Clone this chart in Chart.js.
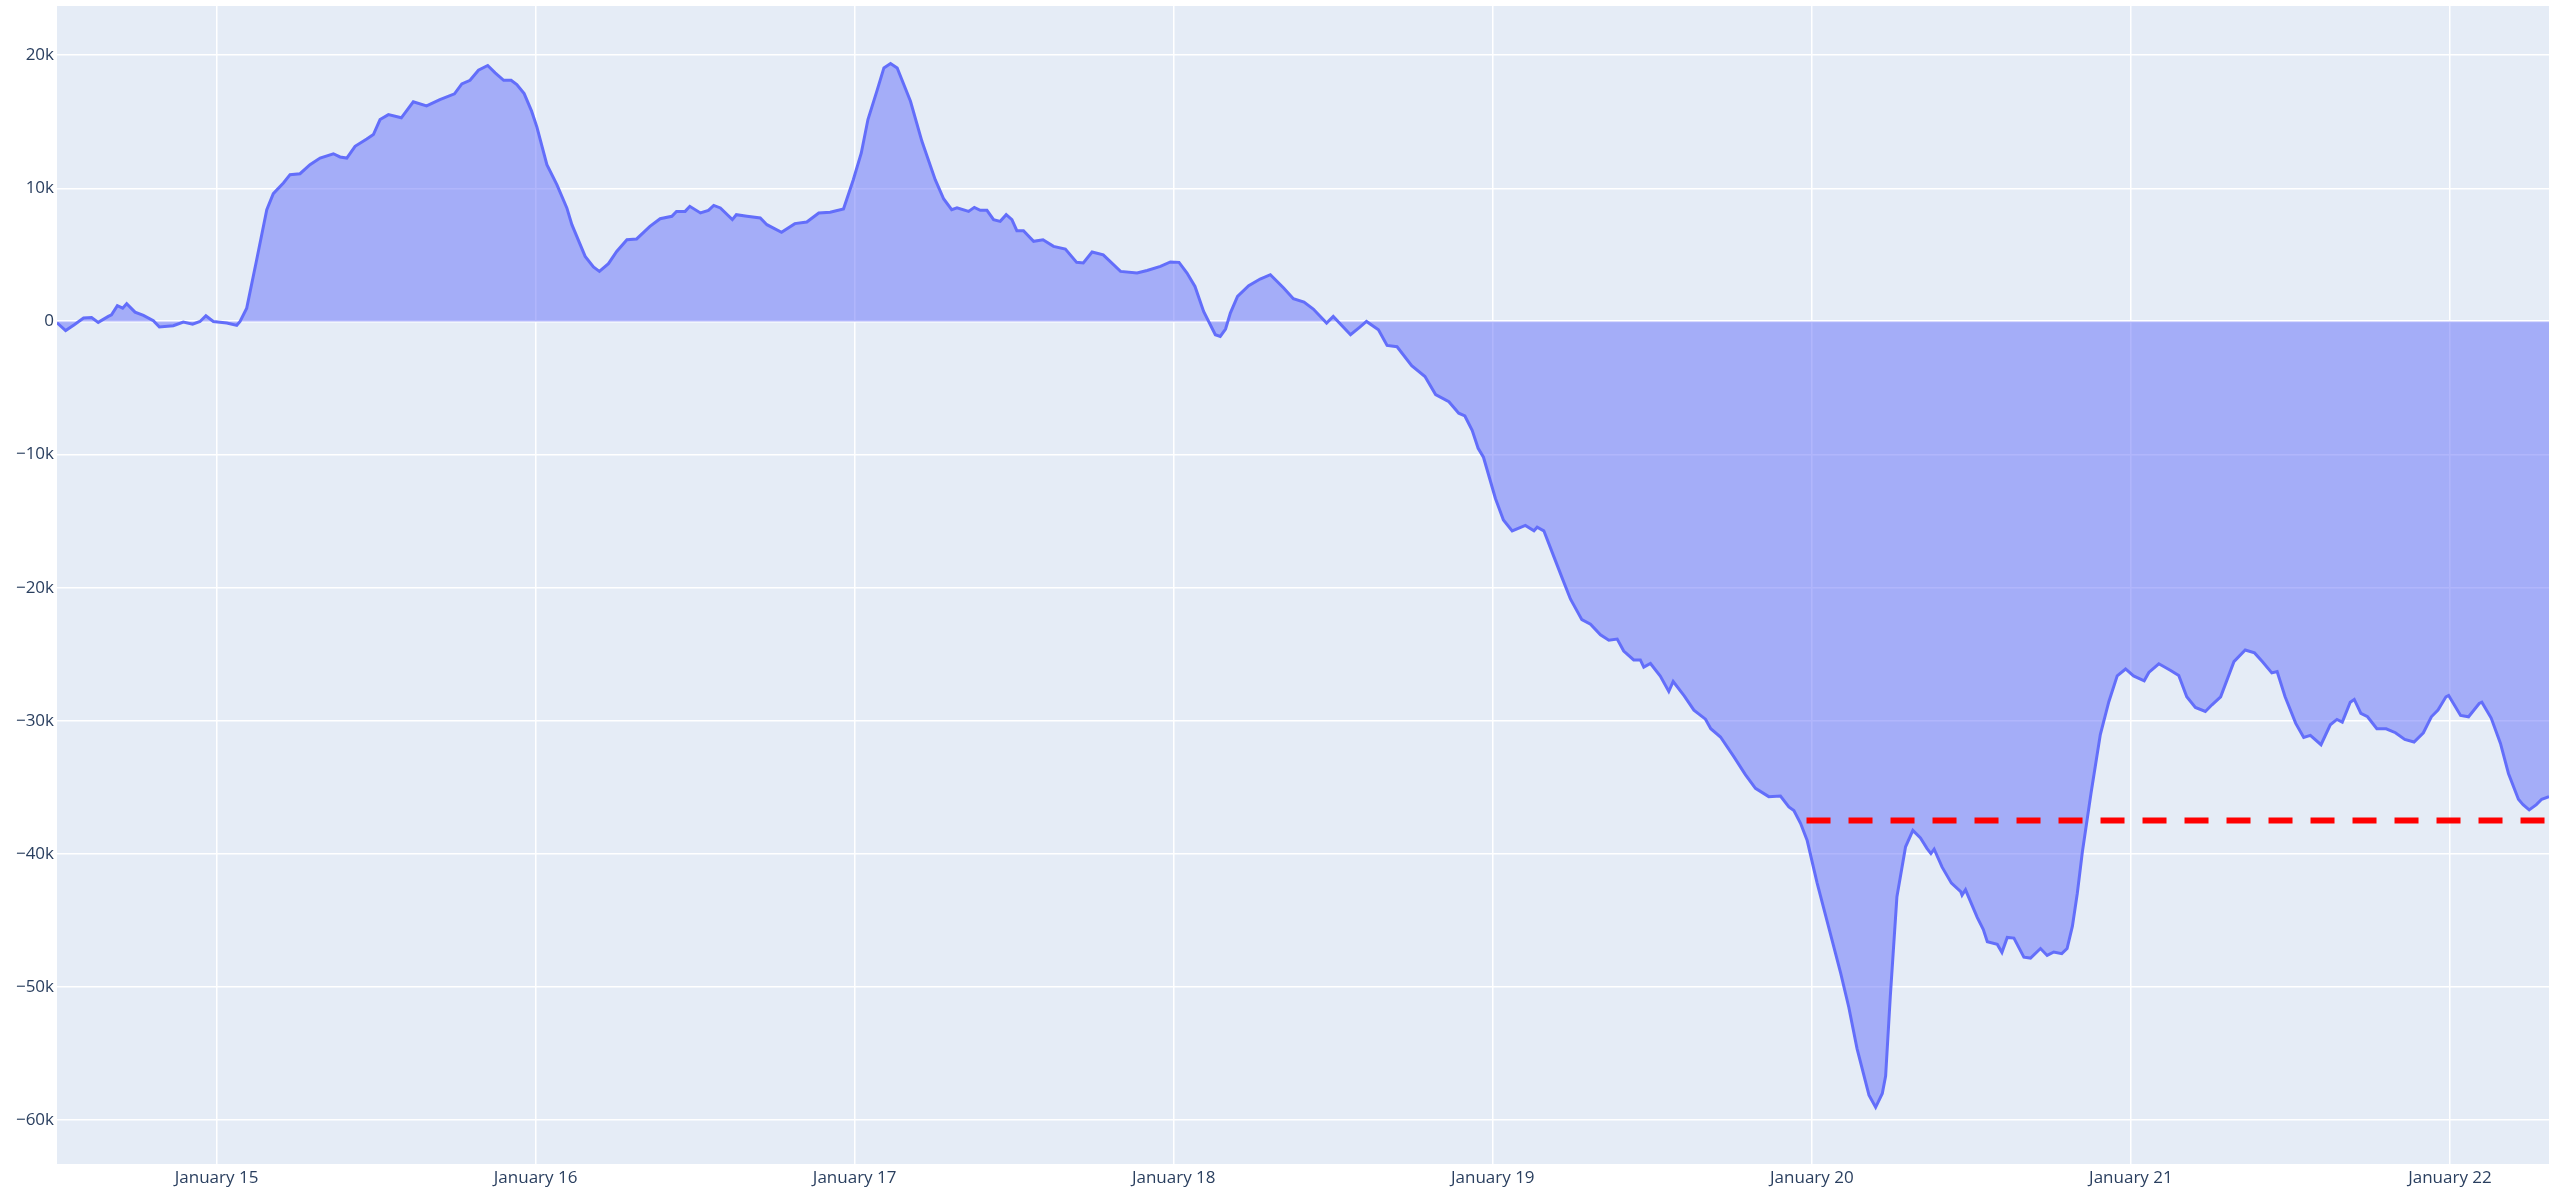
<!DOCTYPE html>
<html>
<head>
<meta charset="utf-8">
<script src="https://cdn.jsdelivr.net/npm/chart.js@4.4.1/dist/chart.umd.min.js"></script>
<style>
  html, body { margin: 0; padding: 0; background: #fff; }
  canvas { display: block; }
</style>
</head>
<body>
<canvas id="chart" width="2549" height="1188"></canvas>
<script>
// hours since January 15 00:00
const hours = [
  -12, -11.35, -10.7, -10, -9.4, -8.9, -8.14, -7.9, -7.46, -7.06, -6.76, -6.13, -5.5, -4.75, -4.3, -3.25,
  -2.5, -1.8, -1.24, -0.8, -0.24, 0.77, 1.52, 1.77, 2.27, 3.02, 3.78, 4.27, 5.03, 5.53, 6.28, 7.03,
  7.79, 8.79, 9.29, 9.8, 10.42, 11.3, 11.8, 12.3, 12.93, 13.9, 14.8, 15.8, 16.8, 17.9, 18.45, 19.07,
  19.7, 20.4, 20.96, 21.6, 22.16, 22.59, 23.14, 23.7, 24.1, 24.85, 25.6, 26.35, 26.73, 27.73, 28.35, 28.8,
  29.48, 30.1, 30.87, 31.6, 32.6, 33.37, 34.25, 34.6, 35.25, 35.6, 36.4, 37, 37.4, 37.9, 38.8, 39.1,
  39.9, 40.9, 41.4, 42.5, 43.5, 44.4, 45.3, 46.16, 47.16, 47.9, 48.5, 49, 49.7, 50.2, 50.7, 51.2,
  52.2, 53.06, 54.06, 54.7, 55.3, 55.7, 56.57, 57, 57.45, 57.95, 58.45, 58.95, 59.4, 59.83, 60.2, 60.7,
  61.46, 62.17, 62.96, 63.85, 64.7, 65.2, 65.86, 66.7, 68, 69.24, 70, 71, 71.75, 72.4, 73, 73.6,
  74.25, 75.13, 75.5, 75.9, 76.26, 76.8, 77.64, 78.5, 79.27, 80.27, 81, 81.8, 82.5, 83.5, 84, 85.3,
  86, 86.5, 87.4, 88.05, 88.8, 89.9, 90.9, 91.7, 92.7, 93.44, 93.9, 94.45, 94.9, 95.3, 96.2, 96.8,
  97.46, 98.45, 99.1, 99.34, 99.84, 100.47, 101.2, 101.84, 102.7, 103.35, 104.1, 104.73, 105.36, 105.85, 106.6, 107.1,
  107.36, 107.86, 108.6, 109.24, 109.57, 110.4, 111.13, 112, 112.4, 113.13, 114.13, 115, 115.76, 116.76, 117.64, 118.27,
  118.65, 119.15, 119.65, 120.4, 121.28, 122.16, 122.78, 123.4, 124.3, 124.8, 125.3, 125.55, 125.9, 126.4, 127.05, 127.6,
  128.17, 128.67, 128.96, 129.2, 129.8, 130.5, 131.2, 131.3, 131.56, 132.44, 132.9, 133.2, 133.95, 134.3, 134.7, 135.2,
  135.95, 136.45, 137.2, 137.7, 138.2, 138.8, 139.2, 139.6, 139.97, 140.35, 141, 141.7, 142.34, 142.97, 143.6, 144.2,
  145, 145.35, 146.1, 146.96, 147.6, 148.2, 148.85, 149.6, 150.1, 150.75, 151.75, 152.6, 153.3, 153.9, 154.6, 155,
  155.6, 156.4, 157, 157.5, 158.3, 159, 159.5, 159.9, 160.5, 160.8, 161.3, 161.8, 162.5, 163.2, 163.9, 164.6,
  165.3, 166, 166.6, 167.1, 167.7, 167.9, 168.8, 169.4, 170.2, 170.4, 171.1, 171.8, 172.4, 173.15, 173.5, 173.96,
  174.5, 174.9, 175.45
];

const values = [
  -100, -680, -250, 260, 300, -70, 380, 500, 1180, 1000, 1330, 700, 450, 50, -420, -320,
  -50, -200, 0, 430, 0, -120, -300, 0, 1000, 4640, 8400, 9600, 10400, 11030, 11100, 11780,
  12280, 12600, 12360, 12280, 13160, 13700, 14040, 15170, 15540, 15300, 16500, 16200, 16670, 17100, 17850, 18120,
  18870, 19230, 18680, 18120, 18120, 17800, 17120, 15800, 14600, 11780, 10280, 8530, 7270, 4890, 4090, 3760,
  4340, 5260, 6140, 6200, 7140, 7720, 7900, 8270, 8270, 8650, 8150, 8350, 8720, 8530, 7650, 8020,
  7900, 7770, 7270, 6700, 7350, 7470, 8150, 8200, 8450, 10650, 12660, 15170, 17400, 19050, 19380, 19050,
  16540, 13530, 10650, 9200, 8400, 8530, 8270, 8570, 8350, 8350, 7650, 7520, 8020, 7650, 6820, 6820,
  6020, 6140, 5640, 5440, 4440, 4390, 5220, 5000, 3760, 3640, 3830, 4140, 4470, 4440, 3640, 2630,
  750, -1000, -1130, -570, 630, 1880, 2680, 3190, 3510, 2510, 1710, 1460, 930, -120, 380, -1000,
  -420, 0, -620, -1800, -1900, -3330, -4140, -5490, -6030, -6890, -7100, -8180, -9530, -10200, -13300, -14920,
  -15730, -15320, -15730, -15460, -15730, -17350, -19230, -20850, -22400, -22740, -23540, -23950, -23860, -24760, -25430, -25430,
  -25970, -25700, -26640, -27800, -27050, -28130, -29200, -29880, -30600, -31220, -32700, -34050, -35080, -35700, -35650, -36480,
  -36740, -37700, -39000, -42190, -45560, -48930, -51520, -54630, -58130, -59040, -58000, -56700, -50740, -43220, -39470, -38240,
  -38810, -39600, -39980, -39650, -41000, -42200, -42840, -43100, -42700, -44770, -45680, -46600, -46800, -47400, -46280, -46330,
  -47760, -47830, -47110, -47630, -47370, -47500, -47110, -45430, -42960, -39850, -35440, -31040, -28570, -26630, -26110, -26630,
  -27000, -26370, -25720, -26200, -26600, -28200, -29000, -29300, -28800, -28200, -25560, -24680, -24900, -25560, -26400, -26300,
  -28200, -30200, -31250, -31100, -31800, -30300, -29900, -30100, -28600, -28400, -29450, -29700, -30600, -30600, -30900, -31400,
  -31600, -30900, -29700, -29200, -28200, -28100, -29600, -29700, -28700, -28600, -29800, -31700, -33960, -35900, -36300, -36700,
  -36300, -35900, -35700
];

// red dashed threshold line
const thresholdValue = -37500;
const thresholdHours = [119.6, 175.45];

const xTickHours = [0, 24, 48, 72, 96, 120, 144, 168];
const xTickLabels = ["January 15", "January 16", "January 17", "January 18", "January 19", "January 20", "January 21", "January 22"];
const yTickValues = [-60000, -50000, -40000, -30000, -20000, -10000, 0, 10000, 20000];

const tickFont = { family: "'Open Sans', verdana, arial, sans-serif", size: 17 };

// plot area background
const plotBg = {
  id: "plotBg",
  beforeDraw(chart) {
    const { ctx, chartArea: a } = chart;
    ctx.save();
    ctx.fillStyle = "#fff";
    ctx.fillRect(0, 0, chart.width, chart.height);
    ctx.fillStyle = "#e5ecf6";
    ctx.fillRect(a.left, a.top, a.right - a.left, a.bottom - a.top);
    ctx.restore();
  }
};

function yLabel(v) {
  if (v === 0) return "0";
  return (v < 0 ? "\u2212" : "") + Math.abs(v) / 1000 + "k";
}

new Chart(document.getElementById("chart"), {
  type: "line",
  data: {
    datasets: [
      {
        data: thresholdHours.map(h => ({ x: h, y: thresholdValue })),
        borderColor: "#ff0000",
        borderWidth: 6,
        borderDash: [24, 18],
        pointRadius: 0,
        fill: false,
        order: 0
      },
      {
        data: hours.map((h, i) => ({ x: h, y: values[i] })),
        borderColor: "#636efa",
        borderWidth: 3,
        backgroundColor: "rgba(99,110,250,0.5)",
        pointRadius: 0,
        tension: 0,
        fill: "origin",
        order: 1
      }
    ]
  },
  options: {
    responsive: false,
    animation: false,
    devicePixelRatio: 1,
    layout: { padding: { top: 6, right: 0, bottom: 0, left: 0 } },
    plugins: { legend: { display: false }, tooltip: { enabled: false } },
    scales: {
      x: {
        type: "linear",
        min: -12,
        max: 175.45,
        afterBuildTicks: s => { s.ticks = xTickHours.map(v => ({ value: v })); },
        afterFit: s => { s.height = 24; s.paddingLeft = 0; s.paddingRight = 0; },
        grid: { color: "#ffffff", lineWidth: 1.5, drawTicks: false },
        border: { display: false },
        ticks: {
          autoSkip: false,
          maxRotation: 0,
          padding: 4,
          color: "#2a3f5f",
          font: tickFont,
          callback: v => xTickLabels[xTickHours.indexOf(v)]
        }
      },
      y: {
        min: -63300,
        max: 23700,
        afterBuildTicks: s => { s.ticks = yTickValues.map(v => ({ value: v })); },
        afterFit: s => { s.width = 57; s.paddingTop = 0; s.paddingBottom = 0; },
        grid: {
          color: "#ffffff",
          lineWidth: c => (c.tick && c.tick.value === 0 ? 2.5 : 1.5),
          drawTicks: false
        },
        border: { display: false },
        ticks: {
          padding: 3,
          color: "#2a3f5f",
          font: tickFont,
          callback: v => yLabel(v)
        }
      }
    }
  },
  plugins: [plotBg]
});
</script>
</body>
</html>
